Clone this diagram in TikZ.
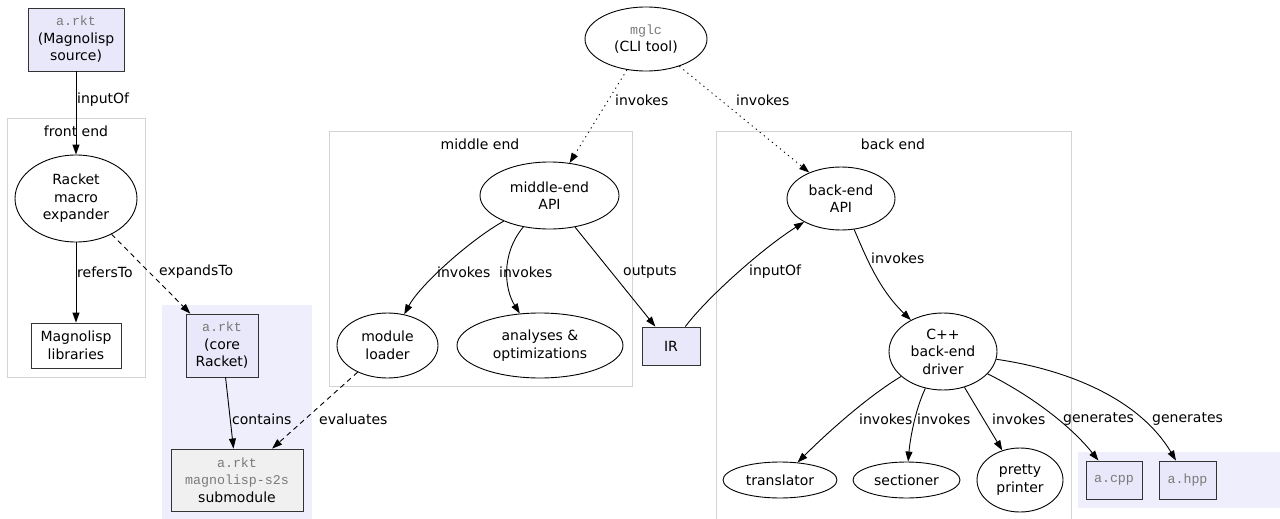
\documentclass[tikz,border=0pt]{standalone}
\usepackage{fontspec}
\setmainfont{DejaVu Sans}
\setmonofont{Liberation Mono}
\usetikzlibrary{shapes.geometric,arrows.meta}
\definecolor{lav}{HTML}{E8E8FA}
\definecolor{lavbg}{HTML}{EEEEFC}
\definecolor{subfill}{HTML}{F0F0F0}
\definecolor{clus}{HTML}{D3D3D3}
\definecolor{boxline}{HTML}{333333}
\definecolor{monocol}{HTML}{7A7A7A}
\newcommand{\mn}[1]{{\ttfamily\fontsize{13.3}{17.5}\selectfont\color{monocol}#1}}
\begin{document}
\begin{tikzpicture}[x=1pt,y=-1pt,
  every node/.style={font=\fontsize{14}{17.5}\selectfont},
  ell/.style={ellipse, draw, line width=0.9pt, inner sep=0pt, align=center},
  box/.style={rectangle, draw=boxline, line width=0.9pt, inner sep=0pt, align=center},
  lbl/.style={anchor=west, inner sep=0pt},
  conn/.style={draw, line width=0.9pt, -{Triangle[length=10pt,width=7pt]}},
  dashconn/.style={conn, dash pattern=on 5pt off 4pt},
  dotconn/.style={conn, dash pattern=on 1.2pt off 4pt},
  cluster/.style={draw=clus, line width=1pt}]
\useasboundingbox (0,0) rectangle (1280,519);
% clusters
\draw[cluster] (7,118) rectangle (145,377);
\fill[lavbg] (162,305) rectangle (312,519);
\draw[cluster] (329,131) rectangle (632,386);
\draw[cluster] (716.5,131) rectangle (1071,530);
\fill[lavbg] (1078,452) rectangle (1280,508);
\node (lfe) at (76,131) {front end};
\node (lme) at (480,144) {middle end};
\node (lbe) at (893,144) {back end};
% nodes
\node[box, fill=lav, minimum width=96pt, minimum height=63pt] (src) at (76,39.5) {\mn{a.rkt}\\(Magnolisp\\source)};
\node[ell, minimum width=122pt, minimum height=87pt] (exp) at (76,198.5) {Racket\\macro\\expander};
\node[box, minimum width=90pt, minimum height=45pt] (lib) at (76,345.5) {Magnolisp\\libraries};
\node[box, fill=lav, minimum width=72pt, minimum height=63pt] (core) at (222,345.5) {\mn{a.rkt}\\(core\\Racket)};
\node[box, fill=subfill, minimum width=132pt, minimum height=62pt] (sub) at (237,480) {\mn{a.rkt}\\\mn{magnolisp-s2s}\\submodule};
\node[ell, minimum width=122pt, minimum height=64pt] (mglc) at (646,39) {\mn{mglc}\\(CLI tool)};
\node[ell, minimum width=139pt, minimum height=67pt] (me) at (549.5,195.5) {middle-end\\API};
\node[ell, minimum width=101pt, minimum height=65pt] (loader) at (387.5,345.5) {module\\loader};
\node[ell, minimum width=166pt, minimum height=65pt] (ana) at (540,345.5) {analyses \&\\optimizations};
\node[box, fill=lav, minimum width=58pt, minimum height=38pt] (ir) at (671,346) {IR};
\node[ell, minimum width=108pt, minimum height=63pt] (bapi) at (841,198.5) {back-end\\API};
\node[ell, minimum width=108pt, minimum height=77pt] (drv) at (943,351.5) {C++\\back-end\\driver};
\node[ell, minimum width=114pt, minimum height=36pt] (trans) at (780,480) {translator};
\node[ell, minimum width=107pt, minimum height=36pt] (sect) at (906.5,480) {sectioner};
\node[ell, minimum width=86pt, minimum height=64pt] (pretty) at (1020,480) {pretty\\printer};
\node[box, fill=lav, minimum width=56pt, minimum height=38pt] (cpp) at (1114,480) {\mn{a.cpp}};
\node[box, fill=lav, minimum width=57pt, minimum height=38pt] (hpp) at (1187.5,480) {\mn{a.hpp}};
% connectors
\draw[conn] (src) -- (exp);
\draw[conn] (exp) -- (lib);
\draw[dashconn] (exp) -- (core);
\draw[conn] (core) -- (sub);
\draw[dashconn] (loader) -- (sub);
\draw[dotconn] (mglc) -- (me);
\draw[dotconn] (mglc) -- (bapi);
\draw[conn] (me) .. controls (470,240) and (420,285) .. (loader);
\draw[conn] (me) .. controls (500,255) and (505,290) .. (ana);
\draw[conn] (me) -- (ir);
\draw[conn] (ir) .. controls (705,300) and (760,250) .. (bapi);
\draw[conn] (bapi) .. controls (868,262) and (880,290) .. (drv);
\draw[conn] (drv) .. controls (870,395) and (830,430) .. (trans);
\draw[conn] (drv) .. controls (915,410) and (910,440) .. (sect);
\draw[conn] (drv) -- (pretty);
\draw[conn] (drv) .. controls (1030,395) and (1070,425) .. (cpp);
\draw[conn] (drv) .. controls (1070,370) and (1140,400) .. (hpp);
% labels
\node[lbl] (l1) at (77,100) {inputOf};
\node[lbl] (l2) at (77,272) {refersTo};
\node[lbl] (l3) at (159,272) {expandsTo};
\node[lbl] (l4) at (232,419) {contains};
\node[lbl] (l5) at (319,419) {evaluates};
\node[lbl] (l6) at (615,100) {invokes};
\node[lbl] (l7) at (736,100) {invokes};
\node[lbl] (l8) at (437,272) {invokes};
\node[lbl] (l9) at (499,272) {invokes};
\node[lbl] (l10) at (623,272) {outputs};
\node[lbl] (l11) at (749,272) {inputOf};
\node[lbl] (l12) at (871,258) {invokes};
\node[lbl] (l13) at (859,419) {invokes};
\node[lbl] (l14) at (917,419) {invokes};
\node[lbl] (l15) at (992,419) {invokes};
\node[lbl] (l16) at (1063,419) {generates};
\node[lbl] (l17) at (1152,419) {generates};
\end{tikzpicture}
\end{document}
